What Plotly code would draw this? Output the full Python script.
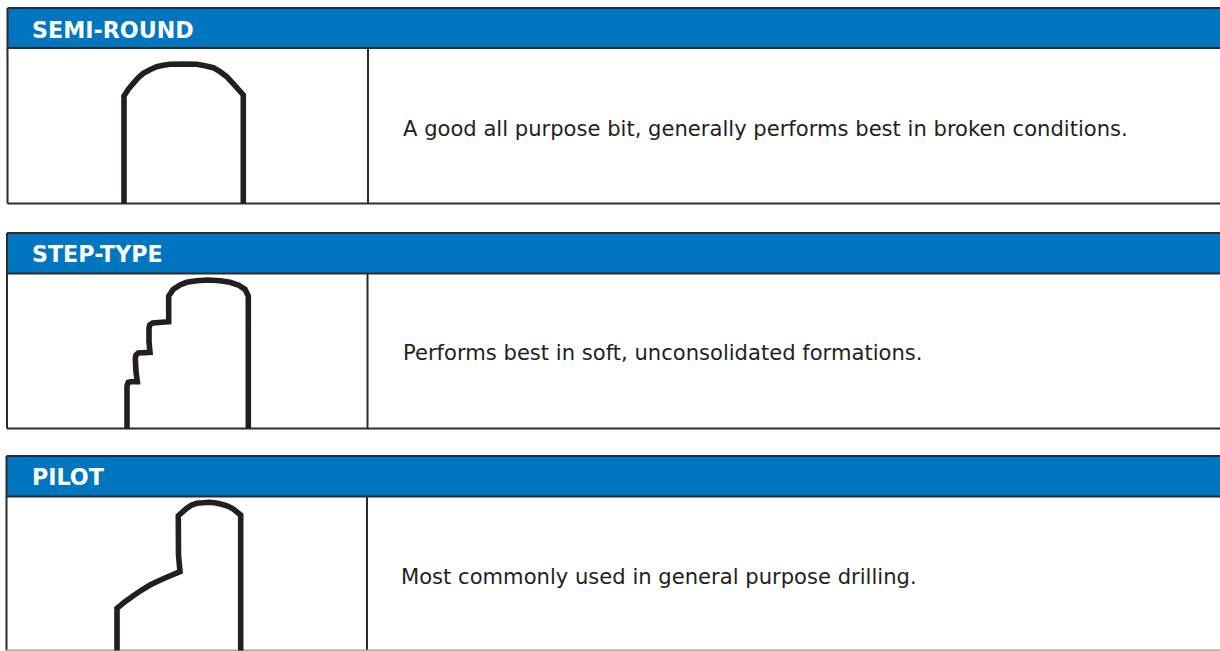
import plotly.graph_objects as go

W, H = 1220, 651
TITLES = ["SEMI-ROUND", "STEP-TYPE", "PILOT"]
TITLE_X = [29.5, 29.5, 29.5]
TITLE_Y = [29.5, 254, 477]
DESCRIPTIONS = [
    "A good all purpose bit, generally performs best in broken conditions.",
    "Performs best in soft, unconsolidated formations.",
    "Most commonly used in general purpose drilling.",
]
DESC_X = [401, 401, 399]
DESC_Y = [128, 352, 576]

PANEL_LEFT = [7.5, 7, 6.5]
PANEL_TOP = [8, 233, 456]
HEADER_BOTTOM = [48, 273.5, 496.5]
PANEL_BOTTOM = [203.5, 428.5, 650.5]
DIVIDER_X = [368, 367.5, 367]

SEMI_X = [124, 124, 128.3, 133.3, 138.3, 143.3, 150, 156.7, 163.3, 170, 183.3, 196.7, 205, 213.3, 220, 226.7, 235, 243.3, 243.3]
SEMI_Y = [203.5, 96, 89.3, 83.3, 77.7, 73.3, 69.7, 66.7, 65.3, 64.3, 64, 64.3, 65.7, 67.7, 71.7, 76.7, 85.7, 95, 203.5]

STEP_X = [127, 127, 128.3, 130.7, 137.3, 136, 135.3, 136, 138.3, 150, 149, 149, 149.7, 152.7, 168.7, 168.7, 173.3, 180, 186.7, 196.7, 208.3, 220, 230, 238.3, 245, 248.3, 248.3]
STEP_Y = [428.5, 386, 382.3, 381.7, 381.7, 371.7, 358.3, 355, 353, 352.3, 341.7, 328.3, 325, 323, 321.7, 296, 289.3, 285, 282.3, 280.7, 280, 280.7, 282.3, 285, 289.3, 296, 428.5]

PILOT_X = [117, 117, 125, 133.3, 141.7, 150, 158.3, 166.7, 180, 178.5, 178.3, 186.7, 191.7, 196.7, 203.3, 209.3, 216, 221.7, 228.3, 233.3, 240.7, 240.7]
PILOT_Y = [650.5, 608.3, 601.7, 595.7, 590, 585, 581, 577.3, 571.7, 555, 515.7, 508.3, 505, 503.3, 502.7, 502.3, 503, 504.3, 506.3, 509, 515, 650.5]

OUTLINES_X = [SEMI_X, STEP_X, PILOT_X]
OUTLINES_Y = [SEMI_Y, STEP_Y, PILOT_Y]

BLUE = "#0076c0"
DARK = "#2e2b2c"
INK = "#231f20"

fig = go.Figure()
annotations = []
for i in range(3):
    l, t, hb, b, d = PANEL_LEFT[i], PANEL_TOP[i], HEADER_BOTTOM[i], PANEL_BOTTOM[i], DIVIDER_X[i]
    fig.add_trace(go.Scatter(x=[l, W + 5, W + 5, l, l], y=[t, t, hb, hb, t], mode="lines", fill="toself",
                             fillcolor=BLUE, line=dict(color=DARK, width=2), hoverinfo="skip", showlegend=False))
    fig.add_trace(go.Scatter(x=[l, l], y=[hb, b], mode="lines", line=dict(color=DARK, width=2),
                             hoverinfo="skip", showlegend=False))
    fig.add_trace(go.Scatter(x=[d, d], y=[hb, b], mode="lines", line=dict(color=DARK, width=2),
                             hoverinfo="skip", showlegend=False))
    bottom_color = "#a7a5a6" if i == 2 else DARK
    fig.add_trace(go.Scatter(x=[l, W + 5], y=[b, b], mode="lines", line=dict(color=bottom_color, width=2),
                             hoverinfo="skip", showlegend=False))
    fig.add_trace(go.Scatter(x=OUTLINES_X[i], y=OUTLINES_Y[i], mode="lines",
                             line=dict(color=INK, width=5.6, shape="linear", simplify=False),
                             hoverinfo="skip", showlegend=False))
    annotations.append(dict(x=TITLE_X[i], y=TITLE_Y[i], text=f"<b>{TITLES[i]}</b>", showarrow=False, xanchor="left",
                            yanchor="middle", xref="x", yref="y",
                            font=dict(family="DejaVu Sans", size=22.2, color="white")))
    annotations.append(dict(x=DESC_X[i], y=DESC_Y[i], text=DESCRIPTIONS[i], showarrow=False, xanchor="left",
                            yanchor="middle", xref="x", yref="y",
                            font=dict(family="DejaVu Sans", size=21.1, color=INK)))

fig.update_layout(
    width=W, height=H, autosize=False,
    margin=dict(l=0, r=0, t=0, b=0),
    paper_bgcolor="white", plot_bgcolor="white",
    showlegend=False, annotations=annotations,
    xaxis=dict(range=[0, W], visible=False, fixedrange=True),
    yaxis=dict(range=[H, 0], visible=False, fixedrange=True),
)
fig.write_html("out.html", config={"displayModeBar": False},
               post_script="document.body.style.margin='0';document.body.style.overflow='hidden';")
